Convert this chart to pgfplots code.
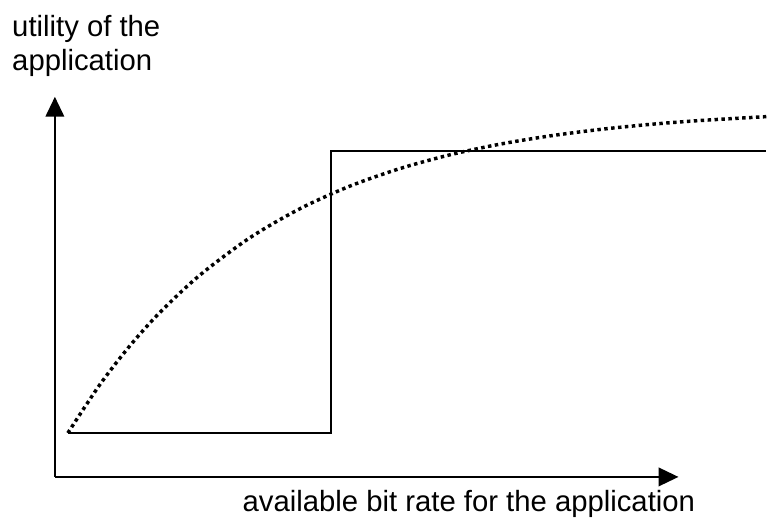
\documentclass[border=0pt]{standalone}
\usepackage{pgfplots}
\pgfplotsset{compat=1.18}
\usetikzlibrary{arrows.meta}
\usepackage{fontspec}
\setmainfont{Liberation Sans}
\begin{document}
\begin{tikzpicture}
\begin{axis}[
  scale only axis,
  width=468.75pt, height=285.75pt,
  xmin=55, xmax=680, ymin=44, ymax=425,
  axis lines=left,
  axis line style={line width=1.5pt, -{Triangle[length=15pt,width=14pt]}},
  xtick=\empty, ytick=\empty,
  clip=false,
]
\path (axis cs:0,0) rectangle (axis cs:768,522);
% step utility (inelastic)
\addplot[black, line width=1.5pt, line join=miter] coordinates {
  (68,88) (332,88) (332,371) (768,371)
};
% elastic utility (dotted)
\addplot[black, line width=2.6pt, dash pattern=on 2.6pt off 2.6pt, smooth] coordinates {
  (68,88) (100,136.4) (130,175.2) (160,208.6) (200,246) (250,283.4)
  (300,312.5) (350,335.2) (400,352.8) (450,366.6) (500,377.3)
  (550,385.6) (600,392.1) (650,397.2) (700,401.1) (768,405.1)
};
\node[anchor=base west, font=\fontsize{22pt}{25.5pt}\selectfont, inner sep=0pt] at (axis cs:12,485) {utility of the};
\node[anchor=base west, font=\fontsize{22pt}{25.5pt}\selectfont, inner sep=0pt] at (axis cs:12,451) {application};
\node[anchor=base west, font=\fontsize{22pt}{25.5pt}\selectfont, inner sep=0pt] at (axis cs:243,9) {available bit rate for the application};
\end{axis}
\end{tikzpicture}
\end{document}
